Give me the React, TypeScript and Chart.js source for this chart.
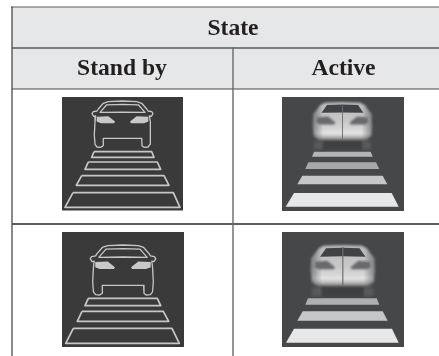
import React, { useEffect, useRef } from "react";
import { Chart, registerables } from "chart.js";

// Registered before the built-in plugins, so that its filter also covers the Filler's fills.
Chart.register({
  id: "softEdges",
  beforeDatasetDraw(chart: any, args: any) {
    const b = chart.data.datasets[args.index].soft;
    if (b) chart.ctx.filter = `blur(${b}px)`;
  },
  afterDatasetDraw(chart: any) {
    chart.ctx.filter = "none";
  },
} as any);
Chart.register(...registerables);

type P = [number, number];

const WIDTH = 439;
const HEIGHT = 356;

// Table text
const titleLabel = "State";
const columnLabels = ["Stand by", "Active"];

// Table grid (in the 439 x 356 diagram's units)
const headerBand: P[] = [[12, 7], [439, 7], [439, 89], [12, 89]];
const gridLines: { pts: P[]; color: string; w: number }[] = [
  { pts: [[11, 7], [439, 7]], color: "#5c5c5e", w: 1.2 },
  { pts: [[12, 48], [439, 48]], color: "#58585a", w: 1.6 },
  { pts: [[12, 89], [439, 89]], color: "#48484a", w: 1.1 },
  { pts: [[12, 224], [439, 224]], color: "#2a2a2c", w: 1.6 },
  { pts: [[12, 7], [12, 356]], color: "#4c4c4e", w: 1.3 },
  { pts: [[233, 48], [233, 356]], color: "#68686a", w: 1.4 },
];

// Icon panels
const standbyPanels: P[][] = [
  [[62, 97], [183, 97], [183, 210.5], [62, 210.5]],
  [[62, 232], [184, 232], [184, 347], [62, 347]],
];
const activePanels: P[][] = [
  [[282, 97], [404, 97], [404, 211], [282, 211]],
  [[282, 232], [404, 232], [404, 347], [282, 347]],
];

// Crossing stripes, standby
const standbyStripes: P[][] = [
  [[94, 151.7], [151.7, 151.7], [154, 157.3], [91.7, 157.3]],
  [[88.3, 162], [157.3, 162], [160.7, 169.3], [85, 169.3]],
  [[81.7, 175.7], [164, 175.7], [169, 185.3], [76.3, 185.3]],
  [[73, 192.7], [173.3, 192.7], [180, 207.3], [65, 207.3]],
  [[88.3, 298.3], [157.3, 298.3], [160.7, 305.7], [85, 305.7]],
  [[82, 311.3], [163.3, 311.3], [168.7, 321.3], [77.3, 321.3]],
  [[73.3, 328.3], [172, 328.3], [179.3, 343.3], [65.7, 343.3]],
];

// Crossing stripes, active
const activeStripes: P[][] = [
  [[314, 151.7], [370.7, 151.7], [372.7, 156.7], [312, 156.7]],
  [[308.3, 162.3], [376, 162.3], [379.3, 169], [305.3, 169]],
  [[302.3, 175.7], [382.7, 175.7], [387.3, 184.3], [297.3, 184.3]],
  [[294, 193], [391.7, 193], [398.7, 206.7], [285.7, 206.7]],
  [[308, 298.3], [376.7, 298.3], [379.3, 304.7], [305.3, 304.7]],
  [[302.7, 311.3], [382.7, 311.3], [387.7, 320.7], [297.3, 320.7]],
  [[294, 328.7], [392, 328.7], [398.7, 342.7], [286, 342.7]],
];
const activeStripeColors = ["#b4b5b7", "#a6a8aa", "#c6c7c9", "#e6e7e8", "#aeb0b2", "#c6c7c9", "#e6e7e8"];

// Outline car: left half, centre top to centre notch (row 1 units)
const carHalfOutline: P[] = [
  [122.5, 101], [108.3, 101.6], [103.3, 103.3], [98.3, 109], [97, 111], [93.3, 111.7],
  [92, 113.7], [93.7, 116.3], [95.7, 116], [95, 121.7], [94.3, 135], [95, 144.3],
  [97, 147], [101, 147.3], [103, 145.7], [103.3, 138.3], [122.5, 138.3],
];
const carHalfWindow: P[] = [[122.5, 104.3], [106.7, 104.8], [100, 112.4], [122.5, 112.1]];
const carHalfLight: P[] = [
  [96.7, 116.8], [108.3, 116.3], [115, 121.5], [114, 123.2], [101, 123.2], [96.5, 121.5],
];

// Blurred car, row 1 units: left half
const glowHalfBody: P[] = [
  [342.5, 102], [325, 102.4], [320, 105], [316.5, 110], [313, 114], [312.5, 125], [313.5, 136],
  [319, 140.5], [342.5, 140.5],
];
const glowHalfWindow: P[] = [[342.5, 104.6], [327, 105], [321.5, 112.8], [342.5, 112.4]];
const glowHalfLight: P[] = [
  [317, 117.5], [328, 116.5], [335.3, 122.5], [334.3, 124.5], [320, 124.5], [316.5, 122.5],
];
const glowWheels: P[][] = [
  [[314, 140], [323.5, 140], [323.5, 149.5], [314, 149.5]],
  [[361.5, 140], [371, 140], [371, 149.5], [361.5, 149.5]],
];

const rowTwoCar = { cx: 123, top: 245, sx: 1.075, sy: 1.08 };
const rowTwoGlow = { cx: 342.8, top: 245, sx: 1.08, sy: 1.08 };

const mirrorAround = (half: P[], cx: number): P[] => [
  ...half,
  ...[...half].reverse().map(([x, y]) => [2 * cx - x, y] as P),
];
const toRowTwo = (pts: P[], fromCx: number, fromTop: number, t: { cx: number; top: number; sx: number; sy: number }) =>
  pts.map(([x, y]) => [t.cx + (x - fromCx) * t.sx, t.top + (y - fromTop) * t.sy] as P);
const close = (pts: P[]): P[] => [...pts, pts[0]];
const xy = (pts: P[]) => pts.map(([x, y]) => ({ x, y }));

type Grad = { from: P; to: P; stops: [number, string][] };

const gradient = (g: Grad) => (c: any) => {
  const { x, y } = c.chart.scales;
  const coords = [
    x?.getPixelForValue(g.from[0]), y?.getPixelForValue(g.from[1]),
    x?.getPixelForValue(g.to[0]), y?.getPixelForValue(g.to[1]),
  ];
  if (!coords.every((v) => Number.isFinite(v))) return "rgba(0,0,0,0)";
  const lg = c.chart.ctx.createLinearGradient(coords[0], coords[1], coords[2], coords[3]);
  g.stops.forEach(([o, col]) => lg.addColorStop(o, col));
  return lg;
};

const filled = (pts: P[], color: any, soft = 0) => ({
  data: xy(close(pts)),
  showLine: true,
  fill: "shape",
  backgroundColor: color,
  borderColor: "rgba(0,0,0,0)",
  borderWidth: 0,
  pointRadius: 0,
  tension: 0,
  clip: false,
  soft,
});
const stroked = (pts: P[], color: string, w: number, soft = 0) => ({
  data: xy(pts),
  showLine: true,
  fill: false,
  borderColor: color,
  borderWidth: w,
  pointRadius: 0,
  tension: 0,
  clip: false,
  borderJoinStyle: "round",
  soft,
});

const ACTIVE_BG = "#464749";
const STANDBY_BG = "#3a3a3b";
const LINE = "#c6c7c9";

const glowCar = (
  body: P[], win: P[], lightL: P[], lightR: P[], wheels: P[][], cx: number, top: number, s: number,
) => {
  const bottom = top + 39 * s;
  const hw = 32 * s;
  return [
    ...wheels.map((w) => filled(w, "#58595b", 1.5)),
    filled(
      [[cx - 19 * s, bottom - 2], [cx + 19 * s, bottom - 2], [cx + 19 * s, bottom + 8 * s], [cx - 19 * s, bottom + 8 * s]],
      "#3f4042", 1,
    ),
    filled(body, gradient({
      from: [cx, top], to: [cx, bottom],
      stops: [[0, "#aeaeb0"], [0.12, "#bebebf"], [0.5, "#c8c8c9"], [0.72, "#d8d8d8"], [0.8, "#e6e6e6"], [0.9, "#b5b5b6"], [1, "#5a5b5d"]],
    }), 1.2),
    filled([[cx - hw - 5, top - 4], [cx + hw + 5, top - 4], [cx + hw + 5, bottom + 2], [cx - hw - 5, bottom + 2]],
      gradient({
        from: [cx - hw, top], to: [cx + hw, top],
        stops: [[0, "rgba(70,71,73,0.7)"], [0.1, "rgba(70,71,73,0.35)"], [0.2, "rgba(70,71,73,0)"], [0.8, "rgba(70,71,73,0)"], [0.9, "rgba(70,71,73,0.35)"], [1, "rgba(70,71,73,0.7)"]],
      }), 0),
    filled(win, "#414245", 0.6),
    filled(lightL, "#68696b", 0.8),
    filled(lightR, "#68696b", 0.8),
    stroked([[cx, top + 2], [cx, bottom - 2]], "rgba(110,110,112,0.7)", 0.8, 0.3),
  ];
};

const buildDatasets = () => {
  const out: any[] = [];
  out.push(filled(headerBand, "#e6e7e8"));
  standbyPanels.forEach((p) => out.push(filled(p, STANDBY_BG)));
  activePanels.forEach((p) => out.push(filled(p, ACTIVE_BG)));
  standbyStripes.forEach((s) => out.push(stroked(close(s), LINE, 1.7, 0.3)));
  activeStripes.forEach((s, i) => out.push(filled(s, activeStripeColors[i], 0.4)));

  // outline cars
  const outline = mirrorAround(carHalfOutline, 122.5);
  const win = mirrorAround(carHalfWindow, 122.5);
  const lightR = carHalfLight.map(([x, y]) => [245 - x, y] as P);
  out.push(stroked(close(outline), LINE, 1.3, 0.3), stroked(close(win), LINE, 1.3, 0.3));
  out.push(filled(carHalfLight, "#c9c9cb", 0.3), filled(lightR, "#c9c9cb", 0.3));
  out.push(
    stroked(close(toRowTwo(outline, 122.5, 101, rowTwoCar)), LINE, 1.3, 0.3),
    stroked(close(toRowTwo(win, 122.5, 101, rowTwoCar)), LINE, 1.3, 0.3),
    filled(toRowTwo(carHalfLight, 122.5, 101, rowTwoCar), "#c9c9cb", 0.3),
    filled(toRowTwo(lightR, 122.5, 101, rowTwoCar), "#c9c9cb", 0.3),
  );

  // blurred cars
  const gBody = mirrorAround(glowHalfBody, 342.5);
  const gWin = mirrorAround(glowHalfWindow, 342.5);
  const gLightR = glowHalfLight.map(([x, y]) => [685 - x, y] as P);
  out.push(...glowCar(gBody, gWin, glowHalfLight, gLightR, glowWheels, 342.5, 102, 1));
  const two = (p: P[]) => toRowTwo(p, 342.5, 102, rowTwoGlow);
  out.push(
    ...glowCar(two(gBody), two(gWin), two(glowHalfLight), two(gLightR), glowWheels.map(two), rowTwoGlow.cx, rowTwoGlow.top, rowTwoGlow.sx),
  );

  gridLines.forEach((l) => out.push(stroked(l.pts, l.color, l.w)));
  return out.reverse();
};

const tableText = {
  id: "tableText",
  afterDatasetsDraw(chart: any) {
    const { ctx, scales } = chart;
    const put = (t: string, x: number, y: number) =>
      ctx.fillText(t, scales.x.getPixelForValue(x), scales.y.getPixelForValue(y));
    ctx.save();
    ctx.fillStyle = "#231f20";
    ctx.font = 'bold 23.6px "Liberation Serif"';
    ctx.textAlign = "center";
    ctx.textBaseline = "alphabetic";
    put(titleLabel, 233, 35);
    put(columnLabels[0], 122, 75);
    put(columnLabels[1], 343.5, 75);
    ctx.restore();
  },
};

export default function App() {
  const ref = useRef<HTMLCanvasElement>(null);
  useEffect(() => {
    const chart = new Chart(ref.current!, {
      type: "scatter",
      data: { datasets: buildDatasets() },
      options: {
        animation: false,
        responsive: false,
        events: [],
        layout: { padding: 0 },
        plugins: { legend: { display: false }, tooltip: { enabled: false }, title: { display: false } },
        scales: {
          x: { type: "linear", display: false, min: 0, max: WIDTH },
          y: { type: "linear", display: false, min: 0, max: HEIGHT, reverse: true },
        },
      },
      plugins: [tableText],
    } as any);
    return () => chart.destroy();
  }, []);
  return (
    <div style={{ position: "absolute", left: 0, top: 0, width: WIDTH, height: HEIGHT, background: "#fff" }}>
      <canvas ref={ref} width={WIDTH} height={HEIGHT} style={{ display: "block" }} />
    </div>
  );
}
